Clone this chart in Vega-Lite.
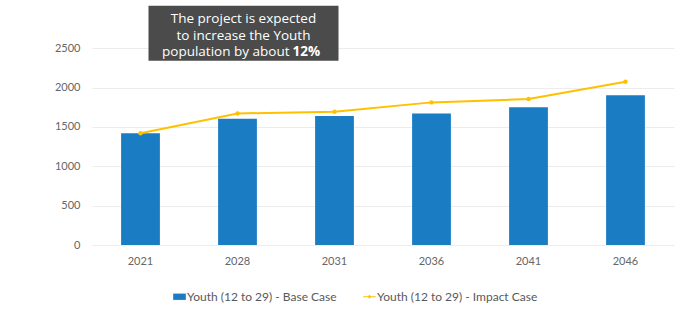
{
  "$schema": "https://vega.github.io/schema/vega-lite/v6.json",
  "width": 582,
  "height": 244,
  "autosize": {"type": "none"},
  "padding": {"left": 92, "top": 1, "right": 5, "bottom": 64},
  "background": "white",
  "config": {
    "view": {"stroke": null},
    "font": "Lato",
    "axis": {"labelFont": "Lato", "labelColor": "#666666", "labelFontSize": 11}
  },
  "data": {
    "values": [
      {"year": "2021", "base": 1420, "impact": 1420},
      {"year": "2028", "base": 1605, "impact": 1672},
      {"year": "2031", "base": 1640, "impact": 1692},
      {"year": "2036", "base": 1672, "impact": 1812},
      {"year": "2041", "base": 1750, "impact": 1855},
      {"year": "2046", "base": 1903, "impact": 2075}
    ]
  },
  "encoding": {
    "x": {
      "field": "year", "type": "nominal", "title": null,
      "scale": {"paddingInner": 0.6, "paddingOuter": 0.3},
      "axis": {"labelAngle": 0, "ticks": false, "domain": false, "labelPadding": 10}
    }
  },
  "layer": [
    {
      "mark": {"type": "bar", "color": "#1a7dc4"},
      "encoding": {
        "y": {
          "field": "base", "type": "quantitative", "title": null,
          "scale": {"domain": [0, 3100], "nice": false},
          "axis": {"values": [0, 500, 1000, 1500, 2000, 2500], "format": "d", "domain": false, "ticks": false, "gridColor": "#ececec", "labelPadding": 12}
        },
        "color": {
          "datum": "Youth (12 to 29) - Base Case",
          "type": "nominal",
          "scale": {"domain": ["Youth (12 to 29) - Base Case", "Youth (12 to 29) - Impact Case"], "range": ["#1a7dc4", "#ffc000"]},
          "legend": {
            "orient": "none", "legendX": 81, "legendY": 289,
            "direction": "horizontal", "title": null,
            "labelFont": "Lato", "labelFontSize": 12, "labelColor": "#595959",
            "labelLimit": 400,
            "columnPadding": 26, "symbolSize": 160,
            "labelOffset": 1,
            "encode": {
              "symbols": {
                "update": {
                  "shape": {"signal": "datum.value === 'Youth (12 to 29) - Base Case' ? 'M-1,-0.5H1V0.5H-1Z' : 'M-1,-0.09H1V0.09H-1Z M-0.3,0L0,-0.3L0.3,0L0,0.3Z'"},
                  "strokeWidth": {"value": 0}
                }
              }
            }
          }
        }
      }
    },
    {
      "mark": {"type": "line", "color": "#ffc000", "strokeWidth": 2, "point": {"filled": true, "size": 20, "color": "#ffc000"}},
      "encoding": {
        "y": {"field": "impact", "type": "quantitative"},
        "color": {"datum": "Youth (12 to 29) - Impact Case", "type": "nominal"}
      }
    },
    {
      "data": {"values": [{}]},
      "mark": {"type": "bar", "color": "#4b4b4b", "width": 190, "xOffset": 6},
      "encoding": {
        "x": {"datum": "2028", "type": "nominal"},
        "y": {"datum": 3040, "type": "quantitative"},
        "y2": {"datum": 2340}
      }
    },
    {
      "data": {"values": [{}]},
      "mark": {"type": "text", "color": "white", "font": "Open Sans", "fontSize": 13.5, "dx": 6, "baseline": "middle", "align": "center"},
      "encoding": {
        "x": {"datum": "2028", "type": "nominal"},
        "y": {"datum": 2870, "type": "quantitative"},
        "text": {"value": "The project is expected"}
      }
    },
    {
      "data": {"values": [{}]},
      "mark": {"type": "text", "color": "white", "font": "Open Sans", "fontSize": 13.5, "dx": 6, "baseline": "middle", "align": "center"},
      "encoding": {
        "x": {"datum": "2028", "type": "nominal"},
        "y": {"datum": 2660, "type": "quantitative"},
        "text": {"value": "to increase the Youth"}
      }
    },
    {
      "data": {"values": [{}]},
      "mark": {"type": "text", "color": "white", "font": "Open Sans", "fontSize": 13.5, "dx": 52, "baseline": "middle", "align": "right"},
      "encoding": {
        "x": {"datum": "2028", "type": "nominal"},
        "y": {"datum": 2450, "type": "quantitative"},
        "text": {"value": "population by about"}
      }
    },
    {
      "data": {"values": [{}]},
      "mark": {"type": "text", "color": "white", "font": "Open Sans", "fontWeight": "bold", "fontSize": 13.5, "dx": 55, "baseline": "middle", "align": "left"},
      "encoding": {
        "x": {"datum": "2028", "type": "nominal"},
        "y": {"datum": 2450, "type": "quantitative"},
        "text": {"value": "12%"}
      }
    }
  ]
}
